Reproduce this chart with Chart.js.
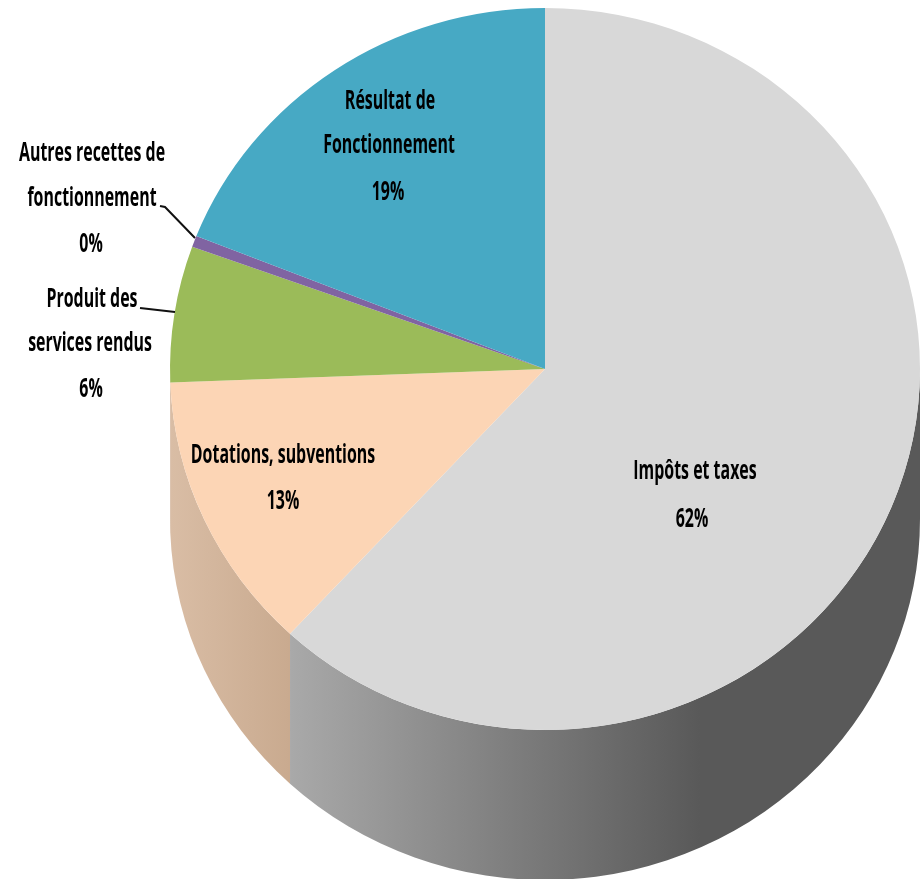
<!DOCTYPE html>
<html>
<head>
<meta charset="utf-8">
<style>
	html, body { margin: 0; padding: 0; background: #fff; overflow: hidden; }
	canvas { display: block; }
</style>
<script src="https://cdn.jsdelivr.net/npm/chart.js@4/dist/chart.umd.min.js"></script>
</head>
<body>
<canvas id="pc-budget" width="921" height="879"></canvas>
<script>
const categories = ["Impôts et taxes", "Dotations, subventions", "Produit des services rendus", "Autres recettes de fonctionnement", "Résultat de Fonctionnement"];
const values = [61.9, 12.5, 6.1, 0.5, 19.0];
const percentLabels = ["62%", "13%", "6%", "0%", "19%"];
const colors = ["#d8d8d8", "#fcd5b5", "#9bbb59", "#8064a2", "#47a9c4"];

// wrapped text of each label, x centre and line y
const labelLines = [
	[["Impôts et taxes", 695, 471], [percentLabels[0], 692, 519]],
	[["Dotations, subventions", 283, 455], [percentLabels[1], 283, 501]],
	[["Produit des", 92, 299], ["services rendus", 90, 343], [percentLabels[2], 91, 389]],
	[["Autres recettes de", 92, 153], ["fonctionnement", 92, 198], [percentLabels[3], 91, 244]],
	[["Résultat de", 390, 101], ["Fonctionnement", 389, 145], [percentLabels[4], 388, 192]],
];
const leaderLines = [
	[[160, 206], [165, 207], [195, 238]],
	[[140, 308], [175, 312]],
];

const stretchX = 375 / 361;
const depth = 150;

// the pie is slightly wider than tall, and has a thick side below
const pie3d = {
	id: "pie3d",
	beforeDatasetsDraw(chart) {
		const ctx = chart.ctx;
		const arcs = chart.getDatasetMeta(0).data;
		const cx = arcs[0].x, cy = arcs[0].y, ry = arcs[0].outerRadius, rx = ry * stretchX;

		ctx.save();
		arcs.forEach((arc, i) => {
			const a0 = Math.max(arc.startAngle, 0);
			const a1 = Math.min(arc.endAngle, Math.PI);
			if (a1 <= a0) return;
			const x0 = cx + rx * Math.cos(a1), x1 = cx + rx * Math.cos(a0);
			let grad;
			if (i === 0) {
				grad = ctx.createLinearGradient(x0, 0, 700, 0);
				grad.addColorStop(0, "#a9a9a9");
				grad.addColorStop(1, "#595959");
			} else {
				grad = ctx.createLinearGradient(x0, 0, x1, 0);
				grad.addColorStop(0, "#d9bda5");
				grad.addColorStop(1, "#c9aa8f");
			}
			ctx.beginPath();
			ctx.ellipse(cx, cy, rx, ry, 0, a0, a1);
			ctx.ellipse(cx, cy + depth, rx, ry, 0, a1, a0, true);
			ctx.closePath();
			ctx.fillStyle = grad;
			ctx.fill();
		});
		ctx.restore();

		ctx.save();
		ctx.translate(cx, 0);
		ctx.scale(stretchX, 1);
		ctx.translate(-cx, 0);
	},
	afterDatasetsDraw(chart) {
		const ctx = chart.ctx;
		ctx.restore();

		ctx.save();
		ctx.strokeStyle = "#111";
		ctx.lineWidth = 2;
		leaderLines.forEach((pts) => {
			ctx.beginPath();
			pts.forEach((p, i) => (i ? ctx.lineTo(p[0], p[1]) : ctx.moveTo(p[0], p[1])));
			ctx.stroke();
		});

		ctx.fillStyle = "#000";
		ctx.font = "bold 27px 'Open Sans'";
		ctx.textAlign = "center";
		ctx.textBaseline = "middle";
		labelLines.forEach((lines) => {
			lines.forEach((l) => {
				ctx.save();
				ctx.translate(l[1], l[2]);
				ctx.scale(0.59, 1);
				ctx.fillText(l[0], 0, 0);
				ctx.restore();
			});
		});
		ctx.restore();
	},
};

new Chart(document.getElementById("pc-budget").getContext("2d"), {
	type: "pie",
	data: {
		labels: categories,
		datasets: [
			{
				data: values,
				backgroundColor: colors,
				borderWidth: 0,
			},
		],
	},
	options: {
		responsive: false,
		animation: false,
		layout: { padding: { left: 184, right: 15, top: 8, bottom: 149 } },
		plugins: {
			legend: { display: false },
			tooltip: { enabled: false },
		},
	},
	plugins: [pie3d],
});
</script>
</body>
</html>
